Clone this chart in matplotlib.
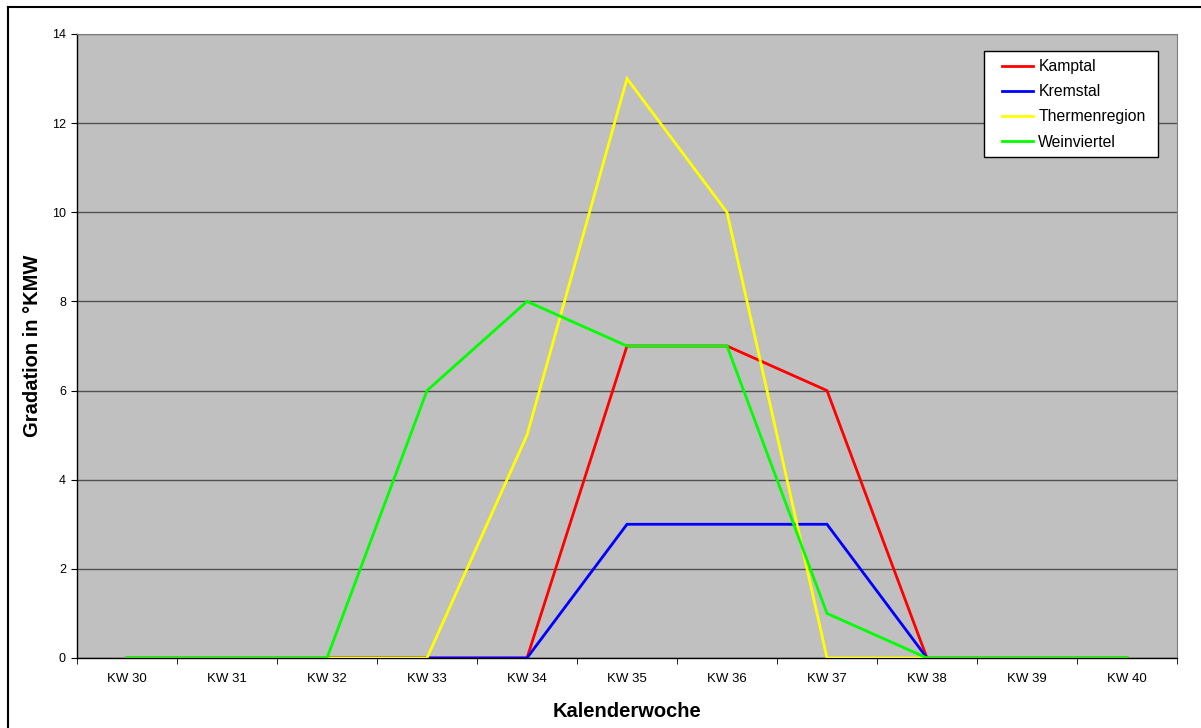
import matplotlib
matplotlib.use("Agg")
import matplotlib.pyplot as plt
from matplotlib.lines import Line2D
from matplotlib.patches import Rectangle

weeks = ["KW 30", "KW 31", "KW 32", "KW 33", "KW 34", "KW 35",
         "KW 36", "KW 37", "KW 38", "KW 39", "KW 40"]
kamptal = [0, 0, 0, 0, 0, 7, 7, 6, 0, 0, 0]
kremstal = [0, 0, 0, 0, 0, 3, 3, 3, 0, 0, 0]
thermenregion = [0, 0, 0, 0, 5, 13, 10, 0, 0, 0, 0]
weinviertel = [0, 0, 0, 6, 8, 7, 7, 1, 0, 0, 0]

series = [("Kamptal", kamptal, "#FF0000"),
          ("Kremstal", kremstal, "#0000FF"),
          ("Thermenregion", thermenregion, "#FFFF00"),
          ("Weinviertel", weinviertel, "#00FF00")]

plt.rcParams['font.family'] = ['Liberation Sans', 'DejaVu Sans']

W, H = 1201, 728
fig = plt.figure(figsize=(W / 100, H / 100), dpi=100)
fig.patch.set_facecolor("white")

# outer chart border (left and top visible)
fig.add_artist(Line2D([8 / W, 8 / W], [0, 1 - 7 / H], transform=fig.transFigure,
                      color="black", lw=1.5))
fig.add_artist(Line2D([8 / W, 1], [1 - 7 / H, 1 - 7 / H], transform=fig.transFigure,
                      color="black", lw=1.5))

l, r, t, b = 77, 1177, 34, 658
ax = fig.add_axes([l / W, 1 - b / H, (r - l) / W, (b - t) / H])
ax.set_facecolor("#C0C0C0")

x = list(range(len(weeks)))
for name, vals, col in series:
    ax.plot(x, vals, color=col, lw=2, label=name, solid_joinstyle="miter", zorder=3)

ax.set_xlim(-0.5, len(weeks) - 0.5)
ax.set_ylim(0, 14)
ax.set_yticks(range(0, 15, 2))
ax.yaxis.grid(True, color="#505050", lw=1)
ax.set_axisbelow(True)
ax.set_xticks(x)
ax.set_xticklabels(weeks, fontsize=9.5)
ax.set_xticks([i - 0.5 for i in range(len(weeks) + 1)], minor=True)
ax.tick_params(axis="x", which="major", length=0, pad=11)
ax.tick_params(axis="x", which="minor", length=4, direction="out", color="black")
ax.tick_params(axis="y", length=4, direction="out", labelsize=9, pad=4)

for s in ["left", "bottom"]:
    ax.spines[s].set_color("black")
    ax.spines[s].set_linewidth(1)
ax.spines["top"].set_color("#808080")
ax.spines["right"].set_color("#808080")

ax.set_xlabel("Kalenderwoche", fontsize=14.5, fontweight="bold", labelpad=12)
ax.set_ylabel("Gradation in °KMW", fontsize=14.5, fontweight="bold", labelpad=7)


def fx(px):
    return (px - l) / (r - l)


def fy(py):
    return 1 - (py - t) / (b - t)


# legend frame
ax.add_patch(Rectangle((fx(984), fy(157)), fx(1158) - fx(984), fy(51) - fy(157),
                       transform=ax.transAxes, facecolor="white", edgecolor="black",
                       lw=1, zorder=5))
leg = ax.legend(loc="upper left", bbox_to_anchor=(fx(1002), fy(59)),
                fontsize=11.3, frameon=False, handlelength=2.0, handletextpad=0.32,
                borderpad=0, labelspacing=0.65, borderaxespad=0)
leg.set_zorder(6)

fig.savefig("out.png", dpi=100, facecolor="white")
